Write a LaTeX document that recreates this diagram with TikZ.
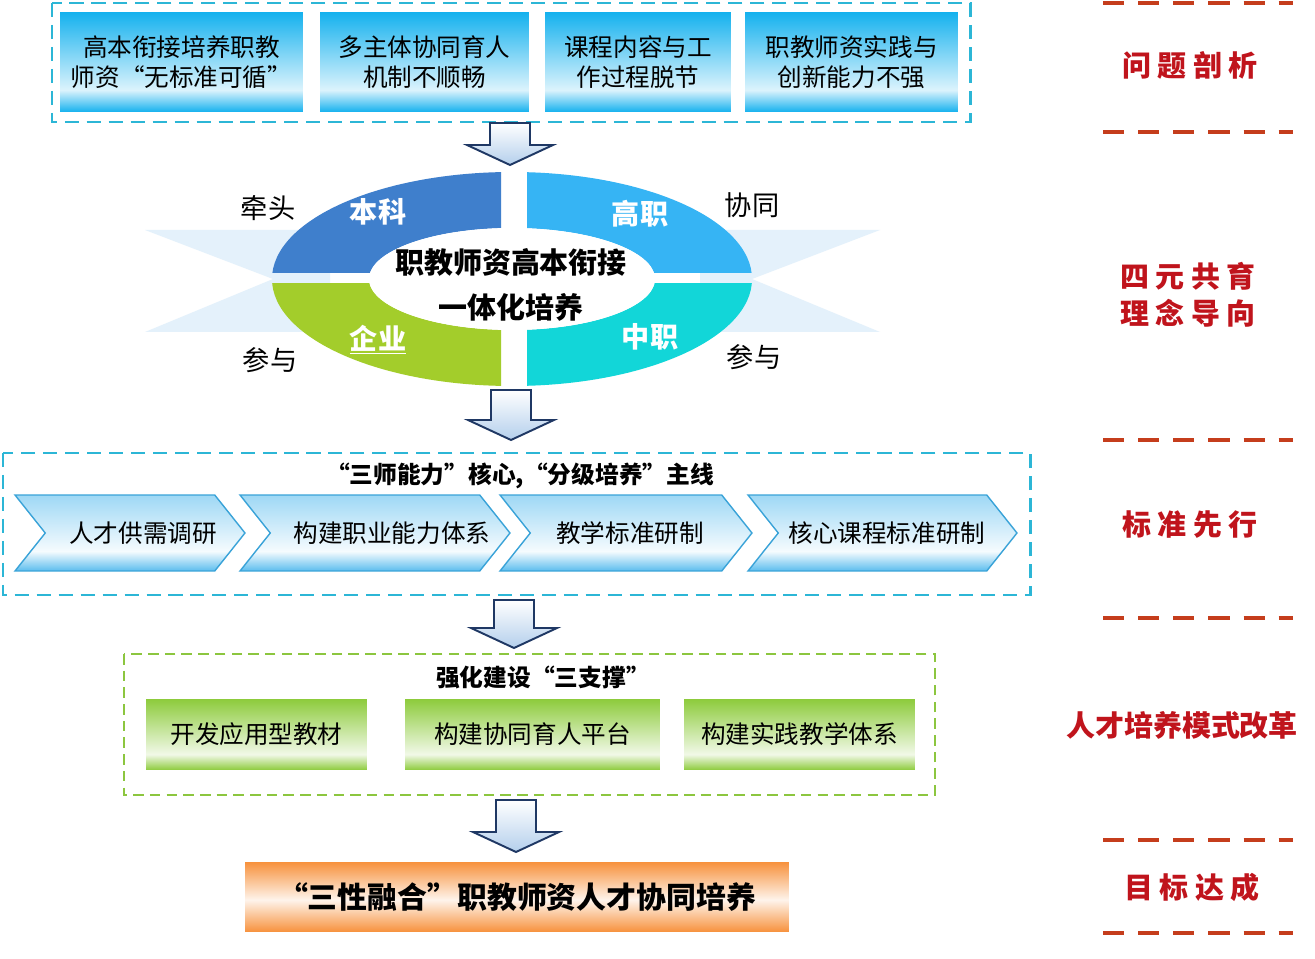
\documentclass[tikz,border=0pt]{standalone}
\usepackage{fontspec}
\setmainfont{Noto Sans CJK SC}
\usepackage{xcolor}
\usetikzlibrary{shapes,shapes.symbols,arrows,calc,positioning}

\definecolor{probcyan}{HTML}{14B1EE}
\definecolor{framecyan}{HTML}{2CB6D6}
\definecolor{framegreen}{HTML}{8CC63F}
\definecolor{supgreen}{HTML}{8DCB3C}
\definecolor{goalorange}{HTML}{F7913C}
\definecolor{chevtop}{HTML}{9ED8F5}
\definecolor{chevbottom}{HTML}{5BBDEE}
\definecolor{chevline}{HTML}{3AA3D8}
\definecolor{stepred}{HTML}{C0141C}
\definecolor{linered}{HTML}{C53D1C}
\definecolor{arrownavy}{HTML}{1F3864}
\definecolor{arrowfill}{HTML}{B4CFEC}
\definecolor{ringA}{HTML}{3F7FCC}
\definecolor{ringB}{HTML}{36B4F4}
\definecolor{ringC}{HTML}{A3CD2B}
\definecolor{ringD}{HTML}{12D6D8}
\definecolor{glow}{HTML}{E4F1FB}
\colorlet{problight}{white!85!probcyan}
\colorlet{chevlight}{white!90!chevtop}
\colorlet{suplight}{white!88!supgreen}
\colorlet{goallight}{white!90!goalorange}

\pgfdeclareverticalshading{probshade}{100bp}{color(0bp)=(probcyan); color(25bp)=(probcyan); color(36bp)=(problight); color(75bp)=(probcyan); color(100bp)=(probcyan)}
\pgfdeclareverticalshading{chevshade}{100bp}{color(0bp)=(chevbottom); color(25bp)=(chevbottom); color(38bp)=(chevlight); color(75bp)=(chevtop); color(100bp)=(chevtop)}
\pgfdeclareverticalshading{supshade}{100bp}{color(0bp)=(supgreen); color(25bp)=(supgreen); color(36bp)=(suplight); color(75bp)=(supgreen); color(100bp)=(supgreen)}
\pgfdeclareverticalshading{goalshade}{100bp}{color(0bp)=(goalorange); color(25bp)=(goalorange); color(48bp)=(goallight); color(75bp)=(goalorange); color(100bp)=(goalorange)}

\tikzset{
	probbox/.style={shade, shading=probshade, minimum height=2cm, inner sep=2pt, align=center, font=\fontsize{14}{17}\selectfont},
	chevbox/.style={signal, signal to=east, signal from=west, signal pointer angle=103, shade, shading=chevshade, draw=chevline, line width=0.8pt, minimum height=1.52cm, inner sep=1pt, font=\fontsize{14}{17}\selectfont},
	supbox/.style={shade, shading=supshade, minimum height=1.42cm, inner sep=2pt, font=\fontsize{14}{17}\selectfont},
	goalbox/.style={shade, shading=goalshade, minimum height=1.4cm, minimum width=10.88cm, font=\fontsize{17}{20}\selectfont\bfseries},
	cyanframe/.style={draw=framecyan, line width=1.7pt, dash pattern=on 8pt off 4.5pt},
	greenframe/.style={draw=framegreen, line width=1.2pt, dash pattern=on 6pt off 3.5pt},
	redline/.style={draw=linered, line width=2.4pt, dash pattern=on 12pt off 8pt},
	steplabel/.style={text=stepred, font=\fontsize{16.5}{21}\selectfont\bfseries, align=center},
	partlabel/.style={font=\fontsize{15.5}{18}\selectfont},
	ringlabel/.style={text=white, font=\fontsize{16}{18}\selectfont\bfseries},
	titlelabel/.style={font=\fontsize{13.5}{16}\selectfont\bfseries},
	pics/downarrow/.style={code={
		\draw[arrownavy, line width=1.1pt, top color=white, bottom color=arrowfill] (-20,0) -- (20,0) -- (20,#1-20) -- (43,#1-20) -- (0,#1) -- (-43,#1-20) -- (-20,#1-20) -- cycle;
	}}
}

\begin{document}
\begin{tikzpicture}[x=0.02cm,y=-0.02cm]
		\useasboundingbox[fill=white] (0,0) rectangle (1315,959);
		% problems
		\draw[cyanframe] (52,3) rectangle (970,122);
		\node[probbox, minimum width=4.86cm] (p1) at (181.5,62) {高本衔接培养职教\\师资“无标准可循”};
		\node[probbox, minimum width=4.18cm] (p2) at (424.5,62) {多主体协同育人\\机制不顺畅};
		\node[probbox, minimum width=3.72cm] (p3) at (638,62) {课程内容与工\\作过程脱节};
		\node[probbox, minimum width=4.26cm] (p4) at (851.5,62) {职教师资实践与\\创新能力不强};
		\pic at (510,123) {downarrow=42};
		% four parties ring
		\coordinate (c) at (512,279);
		\fill[glow] (145,230) -- (330,230) -- (330,332) -- (145,332) -- (273,279) -- cycle;
		\fill[glow] (880,230) -- (700,230) -- (700,332) -- (880,332) -- (752,279) -- cycle;
		\begin{scope}
			\clip (0,0) rectangle (501,273);
			\fill[ringA, even odd rule] (c) ellipse [x radius=240, y radius=107] (c) ellipse [x radius=143, y radius=51];
		\end{scope}
		\begin{scope}
			\clip (527,0) rectangle (1000,273);
			\fill[ringB, even odd rule] (c) ellipse [x radius=240, y radius=107] (c) ellipse [x radius=143, y radius=51];
		\end{scope}
		\begin{scope}
			\clip (0,284) rectangle (501,450);
			\fill[ringC, even odd rule] (c) ellipse [x radius=240, y radius=107] (c) ellipse [x radius=143, y radius=51];
		\end{scope}
		\begin{scope}
			\clip (527,284) rectangle (1000,450);
			\fill[ringD, even odd rule] (c) ellipse [x radius=240, y radius=107] (c) ellipse [x radius=143, y radius=51];
		\end{scope}
		\fill[white] (c) ellipse [x radius=143, y radius=51];
		\node[ringlabel] (ug) at (378,212) {本科};
		\node[ringlabel] (hv) at (640,214) {高职};
		\node[ringlabel] (ent) at (378,340) {\underline{企业}};
		\node[ringlabel] (sec) at (650,337) {中职};
		\node[align=center, font=\fontsize{16.5}{25.5}\selectfont\bfseries] (core) at (511,285) {职教师资高本衔接\\一体化培养};
		\node[partlabel] (lead) at (268,208) {牵头};
		\node[partlabel] (coop) at (752,205) {协同};
		\node[partlabel] (join1) at (270,360) {参与};
		\node[partlabel] (join2) at (754,357) {参与};
		\pic at (511,390) {downarrow=50};
		% standards
		\draw[cyanframe] (3,453) rectangle (1030,595);
		\node[titlelabel] (stdtitle) at (520,476) {“三师能力”核心,“分级培养”主线};
		\node[chevbox, minimum width=4.6cm] (ch1) at (130,533) {\hspace*{7.4pt}人才供需调研\hspace*{-7.4pt}};
		\node[chevbox, minimum width=5.4cm] (ch2) at (375,533) {\hspace*{9.6pt}构建职业能力体系\hspace*{-9.6pt}};
		\node[chevbox, minimum width=5.04cm] (ch3) at (626,533) {\hspace*{2.3pt}教学标准研制\hspace*{-2.3pt}};
		\node[chevbox, minimum width=5.38cm] (ch4) at (882.5,533) {\hspace*{2.5pt}核心课程标准研制\hspace*{-2.5pt}};
		\pic at (514,600) {downarrow=48};
		% supports
		\draw[greenframe] (124,654) rectangle (935,795);
		\node[titlelabel] (suptitle) at (543,677) {强化建设“三支撑”};
		\node[supbox, minimum width=4.42cm] (s1) at (256.5,734.5) {开发应用型教材};
		\node[supbox, minimum width=5.1cm] (s2) at (532.5,734.5) {构建协同育人平台};
		\node[supbox, minimum width=4.62cm] (s3) at (799.5,734.5) {构建实践教学体系};
		\pic at (516,800) {downarrow=52};
		\node[goalbox] (goal) at (517,897) {“三性融合”职教师资人才协同培养};
		% stage column
		\foreach \y in {3,132,440,618,840,933}
			\draw[redline] (1103,\y) -- (1293,\y);
		\node[steplabel] (analysis) at (1190,65) {问 题 剖 析};
		\node[steplabel] (concept) at (1188,295) {四 元 共 育\\理 念 导 向};
		\node[steplabel] (standard) at (1190,525) {标 准 先 行};
		\node[steplabel] (reform) at (1182,725) {人才培养模式改革};
		\node[steplabel] (target) at (1192,887) {目 标 达 成};
	\end{tikzpicture}
\end{document}
